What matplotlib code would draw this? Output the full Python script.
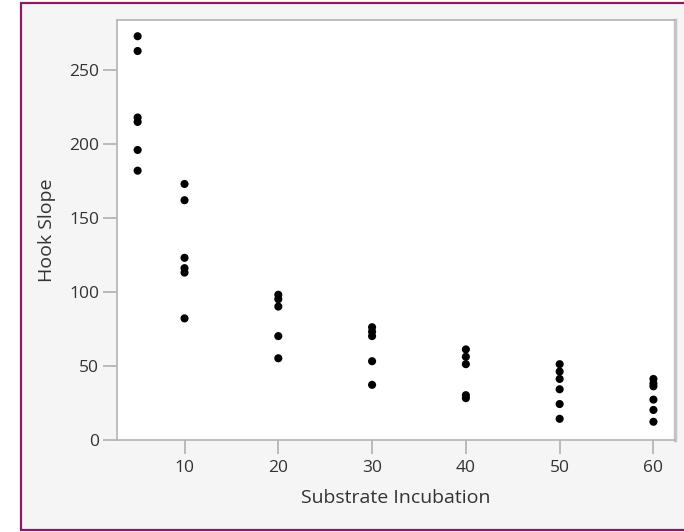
import numpy as np
import matplotlib.pyplot as plt
from matplotlib.patches import Rectangle

plt.rcParams['font.family'] = ['Open Sans', 'DejaVu Sans']

# substrate incubation groups and measured hook slopes
x5 = [273, 263, 218, 215, 196, 182]
x10 = [173, 162, 123, 116, 113, 82]
x20 = [98, 95, 90, 70, 55]
x30 = [76, 73, 70, 53, 37]
x40 = [61, 56, 51, 30, 28]
x50 = [51, 46, 41, 34, 24, 14]
x60 = [41, 38, 36, 27, 20, 12]
groups = [5, 10, 20, 30, 40, 50, 60]
slopes = [x5, x10, x20, x30, x40, x50, x60]

xticks = [10, 20, 30, 40, 50, 60]
yticks = [0, 50, 100, 150, 200, 250]

fig = plt.figure(figsize=(6.84, 5.32), dpi=100)
fig.patch.set_facecolor('white')
# outer panel with maroon border (right edge runs off the image)
fig.patches.append(Rectangle((21 / 684, 2 / 532), 680 / 684, 527 / 532,
                             transform=fig.transFigure, facecolor='#f5f5f5',
                             edgecolor='#8b1a62', linewidth=1.6, zorder=-10))

ax = fig.add_axes([117 / 684, (532 - 439.5) / 532, 558 / 684, 419.5 / 532])
ax.set_zorder(1)
ax.set_facecolor('white')

for g, s in zip(groups, slopes):
    ax.scatter([g] * len(s), s, s=34, color='black', edgecolors='none', zorder=3)

ax.set_xlim(2.8, 62.3)
ax.set_ylim(0, 284)
ax.set_xticks(xticks)
ax.set_yticks(yticks)
ax.tick_params(axis='both', length=10, width=1.2, color='#b0b0b0',
               labelsize=12.5, labelcolor='#333333', pad=3)
ax.tick_params(axis='x', pad=5)
for side in ['left', 'bottom', 'top']:
    ax.spines[side].set_color('#b4b4b4')
    ax.spines[side].set_linewidth(1.2)
ax.spines['right'].set_color('#c4c4c4')
ax.spines['right'].set_linewidth(2.5)

ax.set_xlabel('Substrate Incubation', fontsize=14, color='#333333', labelpad=9)
ax.set_ylabel('Hook Slope', fontsize=14, color='#333333', labelpad=9)

fig.savefig('out.png', dpi=100)
